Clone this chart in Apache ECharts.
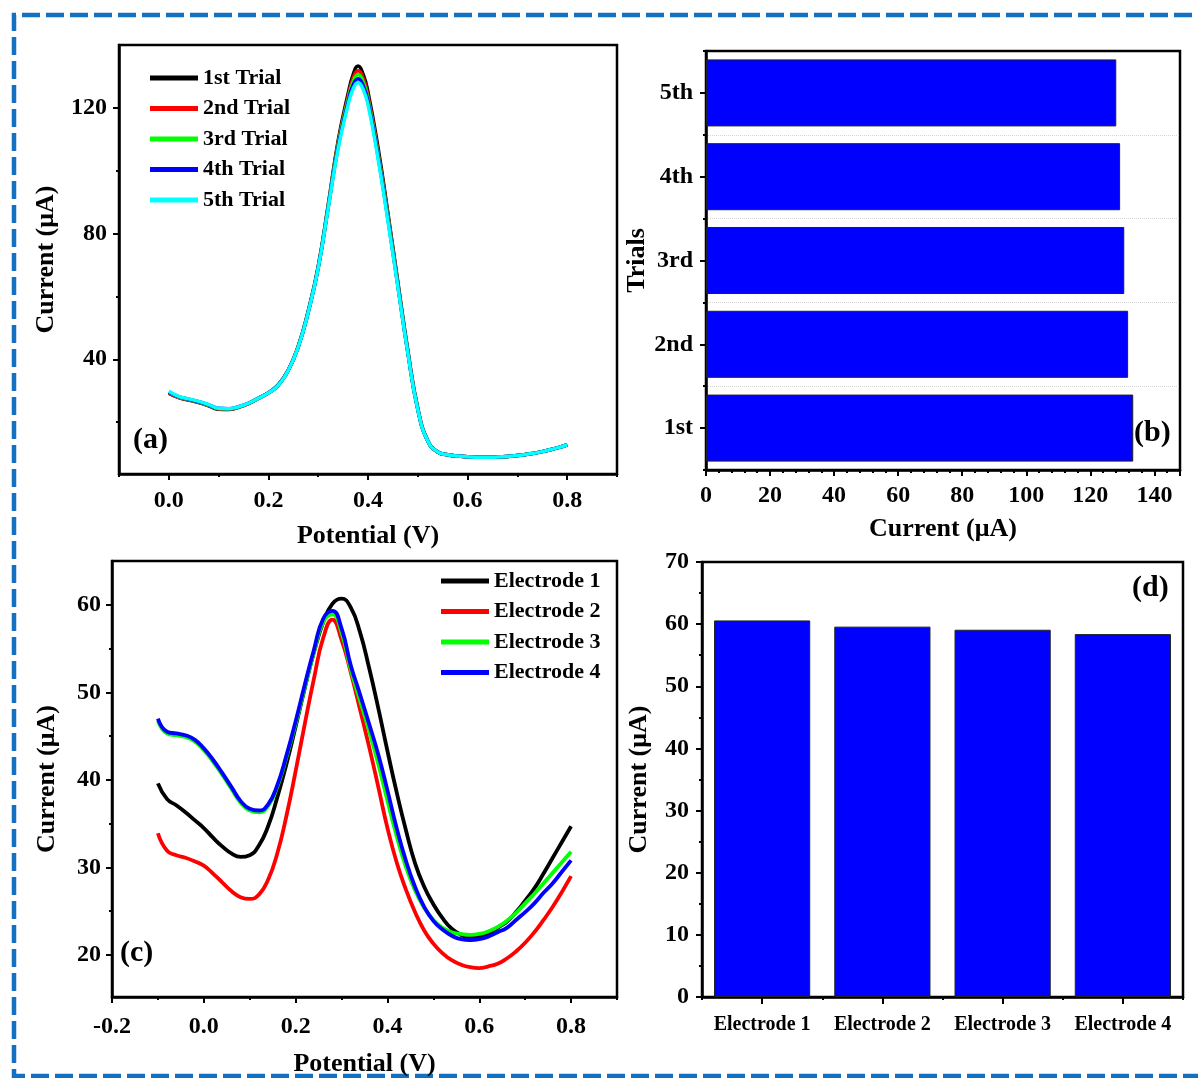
<!DOCTYPE html>
<html>
<head>
<meta charset="utf-8">
<title>Electrode reproducibility</title>
<script src="https://cdn.jsdelivr.net/npm/echarts@6/dist/echarts.min.js"></script>
<style>
  html, body { margin: 0; padding: 0; background: #fff; }
  #main { width: 1198px; height: 1078px; }
</style>
</head>
<body>
<div id="main"></div>
<script>
// (a) five repeated runs on the same electrode
var potentialA = [0, 0.02, 0.04, 0.06, 0.08, 0.10, 0.12, 0.14, 0.16, 0.18, 0.20, 0.22, 0.24, 0.26, 0.28, 0.30,
  0.32, 0.34, 0.36, 0.37, 0.38, 0.39, 0.40, 0.42, 0.44, 0.46, 0.48, 0.50, 0.52, 0.54, 0.56, 0.58, 0.60,
  0.62, 0.64, 0.66, 0.68, 0.70, 0.72, 0.74, 0.76, 0.78, 0.80];
var trial1 = [29.2, 27.8, 27.0, 26.2, 25.2, 24.1, 24.0, 24.7, 25.9, 27.6, 29.4, 31.9, 36.6, 44.2, 55.4, 69.5,
  89.0, 109.5, 124.5, 130.5, 133.3, 130.8, 125.0, 107.5, 86.5, 64.5, 42.8, 24.4, 14.1, 10.5, 9.6, 9.2, 9.0,
  8.8, 8.8, 8.9, 9.1, 9.4, 9.8, 10.3, 11.0, 11.8, 12.8];
var trial2 = [29.2, 27.8, 27.1, 26.3, 25.3, 24.2, 24.1, 24.8, 25.9, 27.6, 29.3, 31.9, 36.6, 44.1, 55.2, 69.3,
  88.7, 108.8, 123.5, 129.4, 131.8, 129.5, 123.8, 106.3, 85.8, 64.0, 42.5, 24.2, 14.0, 10.5, 9.6, 9.2, 9.0,
  8.8, 8.8, 8.9, 9.1, 9.4, 9.8, 10.3, 11.0, 11.8, 12.8];
var trial3 = [29.5, 28.0, 27.2, 26.4, 25.4, 24.3, 24.2, 24.8, 26.0, 27.6, 29.3, 31.8, 36.5, 44.0, 55.1, 69.2,
  88.5, 108.2, 122.7, 128.3, 130.6, 128.4, 122.9, 105.5, 85.2, 63.6, 42.3, 24.1, 14.0, 10.5, 9.6, 9.2, 9.0,
  8.8, 8.8, 8.9, 9.1, 9.4, 9.8, 10.3, 11.0, 11.8, 12.8];
var trial4 = [29.6, 28.1, 27.3, 26.5, 25.5, 24.4, 24.3, 24.9, 26.0, 27.6, 29.3, 31.8, 36.5, 44.0, 55.0, 69.1,
  88.2, 107.6, 121.8, 127.2, 129.3, 127.2, 122.0, 104.8, 84.6, 63.3, 42.1, 24.0, 14.0, 10.5, 9.6, 9.2, 9.0,
  8.8, 8.8, 8.9, 9.1, 9.4, 9.8, 10.3, 11.0, 11.8, 12.8];
var trial5 = [29.8, 28.2, 27.4, 26.6, 25.6, 24.4, 24.3, 24.9, 26.0, 27.6, 29.3, 31.8, 36.5, 44.0, 55.0, 69.0,
  88.0, 107.0, 121.0, 126.0, 128.1, 126.0, 121.0, 104.0, 84.0, 63.0, 42.0, 24.0, 14.0, 10.5, 9.6, 9.2, 9.0,
  8.8, 8.8, 8.9, 9.1, 9.4, 9.8, 10.3, 11.0, 11.8, 12.8];
var trialNames = ['1st Trial', '2nd Trial', '3rd Trial', '4th Trial', '5th Trial'];
var trialColors = ['#000000', '#ff0000', '#00ff00', '#0000ff', '#00ffff'];

// (b) peak current of each trial
var trialLabels = ['1st', '2nd', '3rd', '4th', '5th'];
var trialPeaks = [133.4, 131.8, 130.6, 129.3, 128.1];

// (c) four different electrodes
var potentialC = [-0.10, -0.08, -0.06, -0.04, -0.02, 0.00, 0.02, 0.04, 0.06, 0.08, 0.10, 0.12, 0.14, 0.16,
  0.18, 0.20, 0.22, 0.24, 0.26, 0.28, 0.30, 0.32, 0.34, 0.36, 0.38, 0.40, 0.42, 0.44, 0.46, 0.48, 0.50,
  0.52, 0.54, 0.56, 0.58, 0.60, 0.62, 0.64, 0.66, 0.68, 0.70, 0.72, 0.74, 0.76, 0.78, 0.80];
var electrode1 = [39.6, 37.8, 37.1, 36.3, 35.4, 34.5, 33.4, 32.4, 31.6, 31.2, 31.4, 32.5, 34.7, 38.0,
  41.8, 46.1, 50.5, 54.6, 58.0, 60.1, 60.7, 59.7, 56.9, 52.8, 48.2, 43.3, 38.6, 34.3, 30.5, 27.8, 25.8,
  24.2, 23.0, 22.3, 22.0, 22.1, 22.4, 23.1, 23.8, 24.9, 26.2, 27.6, 29.3, 31.1, 32.9, 34.7];
var electrode2 = [33.9, 31.9, 31.4, 31.1, 30.7, 30.2, 29.3, 28.3, 27.3, 26.6, 26.4, 26.9, 28.6, 31.6,
  35.9, 41.0, 46.4, 51.6, 56.2, 58.3, 56.0, 52.3, 48.1, 43.8, 39.2, 34.5, 30.6, 27.5, 24.9, 22.8, 21.3,
  20.2, 19.4, 18.9, 18.6, 18.5, 18.7, 19.0, 19.6, 20.4, 21.4, 22.6, 24.0, 25.5, 27.2, 29.0];
var electrode3 = [46.8, 45.3, 45.1, 44.9, 44.4, 43.4, 42.1, 40.6, 39.0, 37.4, 36.5, 36.3, 37.0, 39.2,
  42.6, 46.4, 50.6, 54.6, 58.0, 58.9, 56.8, 52.6, 49.1, 45.6, 41.8, 37.6, 33.6, 30.1, 27.4, 25.4, 24.0,
  23.1, 22.6, 22.4, 22.3, 22.4, 22.7, 23.2, 23.9, 24.8, 25.9, 27.0, 28.2, 29.4, 30.6, 31.8];
var electrode4 = [47.0, 45.5, 45.3, 45.1, 44.6, 43.6, 42.3, 40.8, 39.2, 37.6, 36.7, 36.5, 37.2, 39.4,
  42.8, 46.7, 50.9, 54.9, 58.4, 59.3, 57.3, 53.1, 49.8, 46.4, 42.9, 38.8, 34.5, 30.8, 27.8, 25.5, 23.9,
  22.9, 22.2, 21.8, 21.7, 21.8, 22.1, 22.6, 23.1, 24.0, 24.9, 25.9, 27.1, 28.2, 29.5, 30.8];
var electrodeNames = ['Electrode 1', 'Electrode 2', 'Electrode 3', 'Electrode 4'];
var electrodeColors = ['#000000', '#ff0000', '#00ff00', '#0000ff'];

// (d) peak current of each electrode
var electrodePeaks = [60.6, 59.6, 59.1, 58.4];

// tick positions
var ticksAx = [0, 0.2, 0.4, 0.6, 0.8];
var minorAx = [-0.1, 0.1, 0.3, 0.5, 0.7, 0.9];
var ticksAy = [40, 80, 120];
var minorAy = [20, 60, 100];
var ticksCx = [-0.2, 0, 0.2, 0.4, 0.6, 0.8];
var minorCx = [-0.1, 0.1, 0.3, 0.5, 0.7, 0.9];
var ticksCy = [20, 30, 40, 50, 60];
var minorCy = [25, 35, 45, 55];

var font = '"Liberation Serif", "Times New Roman", serif';
var black = { color: '#000', width: 2.5 };
var tickStyle = { color: '#000', width: 2 };

function pairs(xs, ys) {
  return xs.map(function (x, i) { return [x, ys[i]]; });
}
function labelStyle(size, margin, fmt) {
  return { color: '#000', fontFamily: font, fontWeight: 'bold', fontSize: size, margin: margin, formatter: fmt };
}
function nameStyle() {
  return { color: '#000', fontFamily: font, fontWeight: 'bold', fontSize: 26 };
}
function oneDecimal(v) { return Number(v).toFixed(1); }

// a value axis whose labelled ticks come from a list
function valueAxis(grid, min, max, ticks, margin, fmt, name, gap) {
  var ax = {
    type: 'value', gridIndex: grid, min: min, max: max,
    axisLine: { show: true, onZero: false, lineStyle: black },
    axisTick: { show: true, length: 6, lineStyle: tickStyle, customValues: ticks },
    axisLabel: labelStyle(24, margin, fmt),
    splitLine: { show: false },
    name: name, nameLocation: 'middle', nameGap: gap, nameTextStyle: nameStyle()
  };
  ax.axisLabel.customValues = ticks;
  return ax;
}
// a bare axis only used to draw the short minor ticks
function minorAxis(grid, min, max, ticks, pos) {
  return {
    type: 'value', gridIndex: grid, min: min, max: max, position: pos,
    axisLine: { show: false, onZero: false },
    axisTick: { show: true, length: 3, lineStyle: tickStyle, customValues: ticks },
    axisLabel: { show: false },
    splitLine: { show: false }
  };
}
function boundaryAxis(grid, data, pos) {
  return {
    type: 'category', gridIndex: grid, data: data, position: pos,
    axisLine: { show: false },
    axisTick: { show: true, length: 3, lineStyle: tickStyle },
    axisLabel: { show: false },
    splitLine: { show: false }
  };
}

var chart = echarts.init(document.getElementById('main'));

var gridStyle = { show: true, borderColor: '#000', borderWidth: 2.5, backgroundColor: 'transparent' };
var trialData = [trial1, trial2, trial3, trial4, trial5];
var electrodeData = [electrode1, electrode2, electrode3, electrode4];

var series = [];
trialData.forEach(function (d, i) {
  series.push({
    name: trialNames[i], type: 'line', xAxisIndex: 0, yAxisIndex: 0,
    data: pairs(potentialA, d), smooth: true, symbol: 'none',
    lineStyle: { color: trialColors[i], width: 3.5 }, itemStyle: { color: trialColors[i] }
  });
});
series.push({
  name: 'trials', type: 'bar', xAxisIndex: 2, yAxisIndex: 2, data: trialPeaks,
  barCategoryGap: '20%',
  itemStyle: { color: '#0000ff', borderColor: '#222', borderWidth: 1 }
});
electrodeData.forEach(function (d, i) {
  series.push({
    name: electrodeNames[i], type: 'line', xAxisIndex: 3, yAxisIndex: 4,
    data: pairs(potentialC, d), smooth: true, symbol: 'none',
    lineStyle: { color: electrodeColors[i], width: 3.8 }, itemStyle: { color: electrodeColors[i] }
  });
});
series.push({
  name: 'electrodes', type: 'bar', xAxisIndex: 5, yAxisIndex: 6, data: electrodePeaks,
  barCategoryGap: '20%',
  itemStyle: { color: '#0000ff', borderColor: '#222', borderWidth: 1 }
});

var legendText = { color: '#000', fontFamily: font, fontWeight: 'bold', fontSize: 22 };

var option = {
  animation: false,
  backgroundColor: '#fff',
  grid: [
    Object.assign({ left: 119, top: 45, width: 498, height: 429 }, gridStyle),
    Object.assign({ left: 706, top: 51, width: 474, height: 419 }, gridStyle),
    Object.assign({ left: 112, top: 561, width: 505, height: 436 }, gridStyle),
    Object.assign({ left: 702, top: 562, width: 481, height: 435 }, gridStyle)
  ],
  legend: [
    { data: trialNames, orient: 'vertical', left: 150, top: 67, padding: 0, itemWidth: 48, itemHeight: 5,
      itemGap: 8.5, icon: 'rect', selectedMode: false, textStyle: legendText },
    { data: electrodeNames, orient: 'vertical', left: 441, top: 570, padding: 0, itemWidth: 48, itemHeight: 5,
      itemGap: 8.5, icon: 'rect', selectedMode: false, textStyle: legendText }
  ],
  xAxis: [
    valueAxis(0, -0.1, 0.9, ticksAx, 15, oneDecimal, 'Potential (V)', 49),
    minorAxis(0, -0.1, 0.9, minorAx, 'bottom'),
    {
      type: 'value', gridIndex: 1, min: 0, max: 148, interval: 20,
      axisLine: { show: true, onZero: false, lineStyle: black },
      axisTick: { show: true, length: 6, lineStyle: tickStyle },
      minorTick: { show: true, splitNumber: 5, length: 3, lineStyle: tickStyle },
      axisLabel: Object.assign(labelStyle(24, 14), { showMaxLabel: false }),
      splitLine: { show: false },
      name: 'Current (μA)', nameLocation: 'middle', nameGap: 46, nameTextStyle: nameStyle()
    },
    valueAxis(2, -0.2, 0.9, ticksCx, 18, oneDecimal, 'Potential (V)', 54),
    minorAxis(2, -0.2, 0.9, minorCx, 'bottom'),
    {
      type: 'category', gridIndex: 3, data: electrodeNames,
      axisLine: { show: true, lineStyle: black },
      axisTick: { show: true, alignWithLabel: true, length: 7, lineStyle: tickStyle },
      axisLabel: Object.assign(labelStyle(20, 18), { interval: 0 }),
      splitLine: { show: false }
    },
    boundaryAxis(3, electrodeNames, 'bottom')
  ],
  yAxis: [
    valueAxis(0, 3.5, 140, ticksAy, 12, null, 'Current (μA)', 60),
    minorAxis(0, 3.5, 140, minorAy, 'left'),
    {
      type: 'category', gridIndex: 1, data: trialLabels,
      axisLine: { show: true, lineStyle: black },
      axisTick: { show: true, alignWithLabel: true, length: 6, lineStyle: tickStyle },
      axisLabel: labelStyle(24, 13),
      splitLine: { show: true, showMinLine: false, showMaxLine: false,
        lineStyle: { color: '#d6d6d6', type: 'dotted', width: 1 } },
      name: 'Trials', nameLocation: 'middle', nameGap: 55, nameTextStyle: nameStyle()
    },
    boundaryAxis(1, trialLabels, 'left'),
    valueAxis(2, 15.2, 65, ticksCy, 11, null, 'Current (μA)', 52),
    minorAxis(2, 15.2, 65, minorCy, 'left'),
    {
      type: 'value', gridIndex: 3, min: 0, max: 70, interval: 10,
      axisLine: { show: true, onZero: false, lineStyle: black },
      axisTick: { show: true, length: 6, lineStyle: tickStyle },
      minorTick: { show: true, splitNumber: 2, length: 3, lineStyle: tickStyle },
      axisLabel: labelStyle(24, 13),
      splitLine: { show: false },
      name: 'Current (μA)', nameLocation: 'middle', nameGap: 50, nameTextStyle: nameStyle()
    }
  ],
  graphic: [
    // dashed frame: top, left and bottom only (the right side runs off the picture)
    { type: 'polyline', silent: true, shape: { points: [[1240, 15], [14, 15], [14, 1076], [1240, 1076]] },
      style: { fill: null, stroke: '#1470c0', lineWidth: 4.5, lineDash: [18, 6] } },
    { type: 'text', x: 133, y: 440, style: { text: '(a)', font: 'bold 30px ' + font, fill: '#000', verticalAlign: 'middle' } },
    { type: 'text', x: 1134, y: 433, style: { text: '(b)', font: 'bold 30px ' + font, fill: '#000', verticalAlign: 'middle' } },
    { type: 'text', x: 120, y: 953, style: { text: '(c)', font: 'bold 30px ' + font, fill: '#000', verticalAlign: 'middle' } },
    { type: 'text', x: 1132, y: 588, style: { text: '(d)', font: 'bold 30px ' + font, fill: '#000', verticalAlign: 'middle' } }
  ],
  series: series
};

chart.setOption(option);
</script>
</body>
</html>
